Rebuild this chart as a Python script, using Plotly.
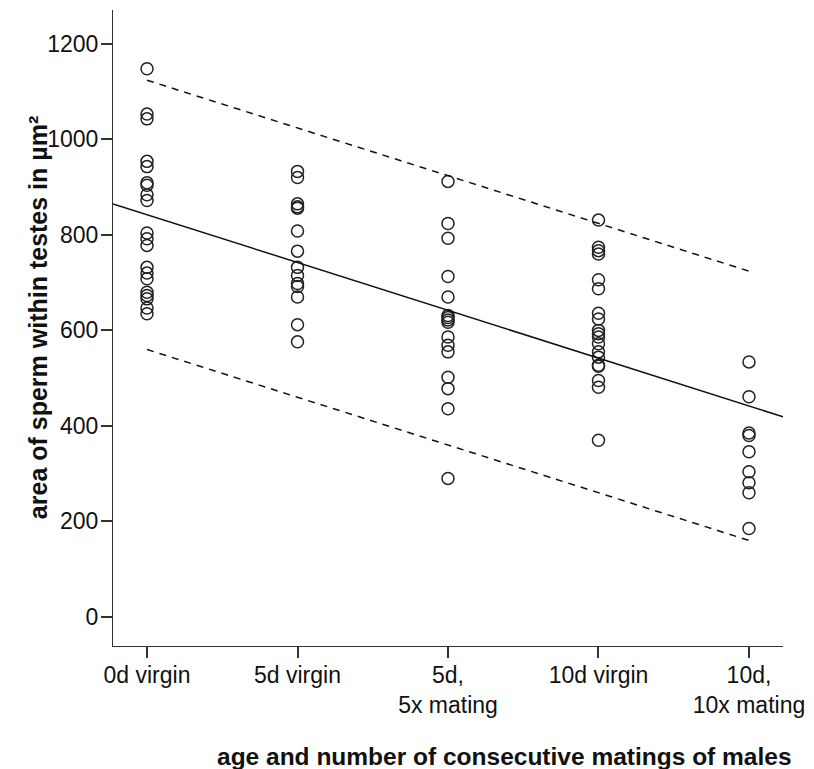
import plotly.graph_objects as go

categories = ["0d virgin", "5d virgin", "5d,<br>5x mating", "10d virgin", "10d,<br>10x mating"]

area_0d_virgin = [1148, 1053, 1043, 954, 943, 909, 904, 884, 872, 804, 792, 778,
                  732, 720, 708, 680, 673, 666, 647, 635]
area_5d_virgin = [933, 920, 865, 859, 856, 808, 766, 732, 715, 698, 692, 670, 612, 576]
area_5d_5x = [912, 824, 793, 713, 670, 631, 627, 622, 617, 586, 569, 555, 502, 478, 436, 290]
area_10d_virgin = [831, 774, 767, 760, 706, 687, 636, 624, 600, 593, 586, 572, 555,
                   544, 527, 525, 495, 481, 370]
area_10d_10x = [534, 461, 385, 380, 346, 304, 281, 260, 185]

groups = [area_0d_virgin, area_5d_virgin, area_5d_5x, area_10d_virgin, area_10d_10x]

# regression line and prediction interval bounds
fit_x = [-0.226, 4.226]
fit_y = [865, 419]
band_x = [0, 4]
upper_y = [1124, 724]
lower_y = [560, 160]

y_ticks = [0, 200, 400, 600, 800, 1000, 1200]

x_title = "age and number of consecutive matings of males"
y_title = "area of sperm within testes in µm²"

fig = go.Figure()

xs, ys = [], []
for i, g in enumerate(groups):
    xs += [i] * len(g)
    ys += g

fig.add_trace(go.Scatter(
    x=xs, y=ys, mode="markers",
    marker=dict(symbol="circle-open", size=12, color="#222222",
                line=dict(width=1.5, color="#222222")),
    showlegend=False, hoverinfo="y"))

fig.add_trace(go.Scatter(x=fit_x, y=fit_y, mode="lines",
                         line=dict(color="#111111", width=1.5), showlegend=False))
fig.add_trace(go.Scatter(x=band_x, y=upper_y, mode="lines",
                         line=dict(color="#111111", width=1.5, dash="7px,6px"),
                         showlegend=False))
fig.add_trace(go.Scatter(x=band_x, y=lower_y, mode="lines",
                         line=dict(color="#111111", width=1.5, dash="7px,6px"),
                         showlegend=False))

font_family = "Liberation Sans, Arial, sans-serif"

# page body has an 8px margin, so the figure is sized/offset to compensate
fig.update_layout(
    width=806, height=761,
    margin=dict(l=105, r=31, t=2, b=123),
    paper_bgcolor="white", plot_bgcolor="white",
    font=dict(family=font_family, size=23, color="#111111"),
    xaxis=dict(
        range=[-0.226, 4.226], automargin=False,
        tickmode="array", tickvals=list(range(len(categories))), ticktext=categories,
        showgrid=False, zeroline=False,
        showline=True, linecolor="#333333", linewidth=1,
        ticks="outside", ticklen=11, tickwidth=1.5, tickcolor="#333333",
        tickfont=dict(size=23),
        ticklabelstandoff=-3,
    ),
    yaxis=dict(
        range=[-61, 1271], automargin=False,
        tickmode="array", tickvals=y_ticks,
        showgrid=False, zeroline=False,
        showline=True, linecolor="#333333", linewidth=1,
        ticks="outside", ticklen=11, tickwidth=1.5, tickcolor="#333333",
        tickfont=dict(size=23),
        ticklabelstandoff=-2,
    ),
    annotations=[
        dict(text="<b>" + x_title + "</b>", xref="paper", yref="paper",
             x=0.5836, y=-0.1745, xanchor="center", yanchor="middle",
             showarrow=False, font=dict(size=24.5, color="#111111")),
        dict(text="<b>" + y_title + "</b>", xref="paper", yref="paper",
             x=-0.112, y=0.517, xanchor="center", yanchor="middle", textangle=-90,
             showarrow=False, font=dict(size=25, color="#111111")),
    ],
)

fig.write_html("out.html")
